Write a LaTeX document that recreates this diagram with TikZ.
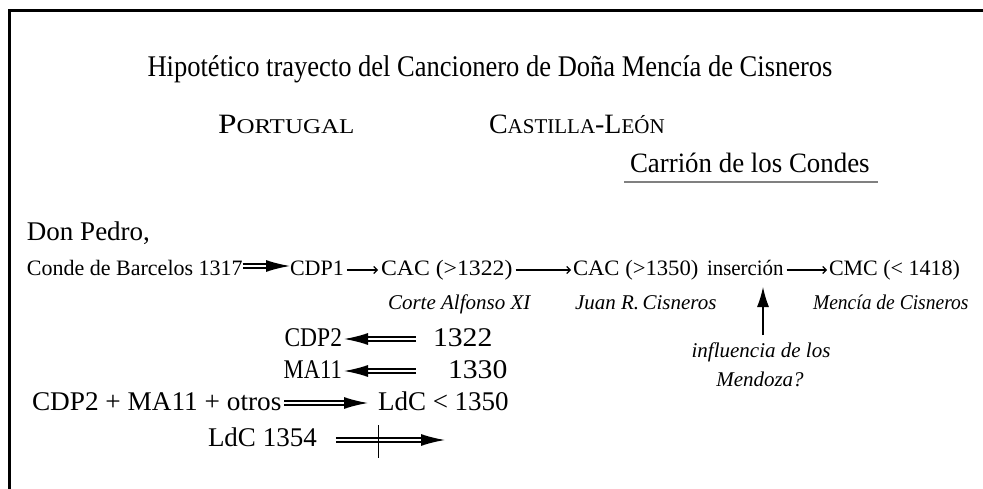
\documentclass[tikz,border=0pt]{standalone}
\usepackage{fontspec}
\setmainfont{Liberation Serif}
\usetikzlibrary{arrows.meta}
\newcommand\ftitle{\fontsize{30}{34}\selectfont}
\newcommand\fbig{\fontsize{27}{30}\selectfont}
\newcommand\fcap{\fontsize{28}{30}\selectfont}
\newcommand\fsc{\fontsize{21}{24}\selectfont}
\newcommand\fmid{\fontsize{22}{25}\selectfont}
\newcommand\fit{\fontsize{21}{25}\selectfont\itshape}
\newcommand\hs[2]{\scalebox{#1}[1]{#2}}
\begin{document}
\begin{tikzpicture}[x=1pt,y=-1pt,
  every node/.style={inner sep=0pt, outer sep=0pt},
  lbl/.style={anchor=base west},
  dblarrow/.style={double, double distance=2.2pt, line width=1.5pt, -{Latex[length=24pt,width=12pt]}},
  thinarrow/.style={line width=1.1pt, -{Straight Barb[length=3.5pt,width=7pt]}},
  uparrow/.style={line width=1.2pt, -{Latex[length=20pt,width=12pt]}}]
\useasboundingbox (0,0) rectangle (983,489);
\draw[line width=3pt] (983,11) -- (9.5,11) -- (9.5,489);

\node[anchor=base] (title) at (490,77) {\ftitle\hs{0.884}{Hipotético trayecto del Cancionero de Doña Mencía de Cisneros}};
\node[lbl] (port) at (218,134) {\hs{1.19}{\fcap P\fsc ORTUGAL}};
\node[lbl] (cast) at (489,134) {\fcap C\fsc ASTILLA\fcap -L\fsc EÓN};
\node[lbl] (carr) at (630,173) {\fcap\hs{0.96}{Carrión de los Condes}};
\draw[line width=2pt, gray] (624,182) -- (878,182);

\node[lbl] (don) at (27,241) {\fbig Don Pedro,};
\node[lbl] (cb) at (27,276) {\fmid Conde de Barcelos 1317};
\node[lbl] (cdp1) at (290,276) {\fmid CDP1};
\node[lbl] (cac1) at (381,276) {\fmid\hs{1.08}{CAC (>1322)}};
\node[lbl] (cac2) at (573,276) {\fmid\hs{1.03}{CAC (>1350)}};
\node[lbl] (ins) at (707,276) {\fmid\hs{0.95}{inserción}};
\node[lbl] (cmc) at (829,276) {\fmid CMC (< 1418)};

\draw[dblarrow] ([yshift=10pt]cb.base east) -- ([yshift=10pt]cdp1.base west);
\draw[thinarrow] ([xshift=3pt,yshift=6pt]cdp1.base east) -- ([xshift=-3pt,yshift=6pt]cac1.base west);
\draw[thinarrow] ([xshift=3pt,yshift=6pt]cac1.base east) -- ([xshift=-2pt,yshift=6pt]cac2.base west);
\draw[thinarrow] ([xshift=3pt,yshift=6pt]ins.base east) -- ([xshift=-2pt,yshift=6pt]cmc.base west);

\node[lbl] (corte) at (388,309) {\fit Corte Alfonso XI};
\node[lbl] (juan) at (575,309) {\fit Juan R.\,Cisneros};
\node[lbl] (mencia) at (813,309) {\fit\hs{0.93}{Mencía de Cisneros}};

\node[anchor=base] (infl) at (761,357) {\fit influencia de los};
\node[anchor=base] (mend) at (760,386) {\fit Mendoza?};
\coordinate (upstart) at (763,335);
\coordinate (uptip) at (763,287);
\draw[uparrow] (upstart) -- (uptip);

\node[anchor=base east] (cdp2) at (342,346) {\fbig\hs{0.87}{CDP2}};
\node[lbl] (y1322) at (433,346) {\fbig\hs{1.1}{1322}};
\node[anchor=base east] (ma11) at (342,378) {\fbig\hs{0.84}{MA11}};
\node[lbl] (y1330) at (448,378) {\fbig\hs{1.1}{1330}};
\node[lbl] (sum) at (32,410) {\fbig\hs{1.01}{CDP2 + MA11 + otros}};
\node[lbl] (ldc) at (378,410) {\fbig LdC < 1350};
\node[lbl] (ldc54) at (208,446) {\fbig LdC 1354};
\coordinate (ldcend) at (445,440);

\draw[dblarrow] ([xshift=-17pt,yshift=7pt]y1322.base west) -- ([xshift=2pt,yshift=7pt]cdp2.base east);
\draw[dblarrow] ([xshift=-32pt,yshift=7pt]y1330.base west) -- ([xshift=2pt,yshift=7pt]ma11.base east);
\draw[dblarrow] ([xshift=3pt,yshift=7pt]sum.base east) -- ([xshift=-10pt,yshift=7pt]ldc.base west);
\draw[dblarrow] ([xshift=19pt,yshift=6pt]ldc54.base east) -- (ldcend);
\coordinate (bar) at (378,441);
\draw[line width=1pt] (bar) +(0,-16) -- +(0,17);
\end{tikzpicture}
\end{document}
